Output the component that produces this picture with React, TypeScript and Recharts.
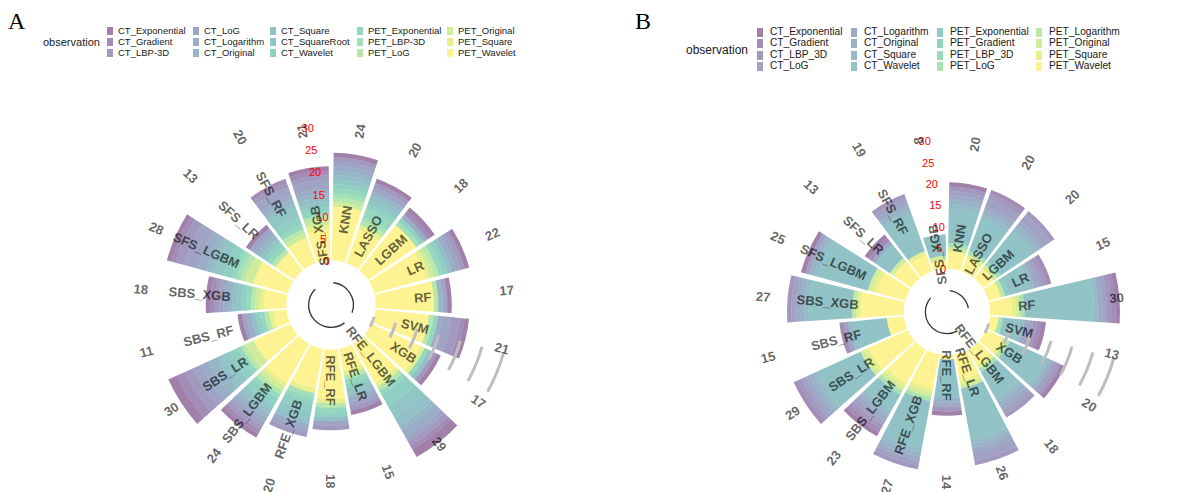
import React from "react";
import { RadialBarChart, RadialBar, PolarAngleAxis, PolarRadiusAxis } from "recharts";

const FONT = '"Liberation Sans", Arial, sans-serif';

const models = [
  "KNN", "LASSO", "LGBM", "LR", "RF", "SVM", "XGB",
  "RFE_LGBM", "RFE_LR", "RFE_RF", "RFE_XGB",
  "SBS_LGBM", "SBS_LR", "SBS_RF", "SBS_XGB",
  "SFS_LGBM", "SFS_LR", "SFS_RF", "SFS_XGB",
];

// ---- panel A ----
const obsA = [
  "CT_Exponential", "CT_Gradient", "CT_LBP-3D", "CT_LoG", "CT_Logarithm", "CT_Original",
  "CT_Square", "CT_SquareRoot", "CT_Wavelet", "PET_Exponential", "PET_LBP-3D", "PET_LoG",
  "PET_Original", "PET_Square", "PET_Wavelet",
];
const coloursA = [
  "#440154", "#481B6D", "#46337E", "#3F4889", "#365C8D", "#2E6E8E", "#277F8E", "#21908C",
  "#1FA187", "#2DB27D", "#4AC16D", "#71CF57", "#9FDA3A", "#CFE11C", "#FDE725",
];
// one row per model, columns in obsA order
const countsA = [
  [1, 0, 1, 1, 1, 1, 1, 1, 1, 1, 1, 1, 1, 0, 12], // KNN
  [1, 0, 1, 1, 0, 1, 1, 1, 1, 2, 1, 1, 0, 1, 8], // LASSO
  [1, 1, 0, 0, 1, 0, 0, 0, 1, 0, 1, 0, 0, 0, 13], // LGBM
  [1, 0, 1, 1, 1, 0, 1, 0, 1, 1, 0, 1, 1, 1, 12], // LR
  [1, 0, 0, 1, 0, 1, 0, 0, 0, 0, 0, 1, 0, 0, 13], // RF
  [1, 1, 2, 2, 1, 0, 0, 0, 0, 1, 0, 1, 0, 0, 12], // SVM
  [1, 0, 1, 0, 0, 0, 1, 0, 0, 1, 0, 0, 0, 1, 12], // XGB
  [2, 1, 1, 1, 2, 1, 2, 3, 3, 1, 0, 1, 0, 1, 10], // RFE_LGBM
  [1, 0, 1, 1, 1, 0, 1, 1, 1, 1, 0, 1, 0, 1, 5], // RFE_LR
  [0, 0, 1, 1, 0, 0, 1, 0, 1, 1, 0, 1, 0, 1, 11], // RFE_RF
  [0, 0, 1, 1, 1, 0, 1, 2, 2, 1, 1, 0, 0, 1, 9], // RFE_XGB
  [1, 1, 1, 1, 1, 1, 1, 1, 2, 1, 0, 1, 1, 1, 10], // SBS_LGBM
  [2, 2, 2, 2, 2, 2, 1, 2, 2, 1, 0, 1, 2, 0, 9], // SBS_LR
  [1, 0, 0, 1, 1, 0, 1, 0, 1, 1, 0, 1, 0, 1, 3], // SBS_RF
  [1, 1, 1, 1, 1, 1, 1, 1, 1, 1, 0, 1, 1, 1, 5], // SBS_XGB
  [1, 1, 2, 3, 2, 1, 1, 2, 2, 1, 1, 1, 2, 0, 8], // SFS_LGBM
  [1, 0, 0, 1, 1, 1, 0, 1, 1, 1, 0, 1, 0, 0, 5], // SFS_LR
  [0, 1, 1, 2, 1, 1, 1, 2, 2, 1, 0, 1, 1, 0, 6], // SFS_RF
  [1, 1, 1, 2, 1, 1, 1, 1, 1, 1, 0, 1, 1, 1, 7], // SFS_XGB
];

// ---- panel B ----
const obsB = [
  "CT_Exponential", "CT_Gradient", "CT_LBP_3D", "CT_LoG", "CT_Logarithm", "CT_Original",
  "CT_Square", "CT_Wavelet", "PET_Exponential", "PET_Gradient", "PET_LBP_3D", "PET_LoG",
  "PET_Logarithm", "PET_Original", "PET_Square", "PET_Wavelet",
];
const coloursB = [
  "#440154", "#481A6C", "#472F7D", "#414487", "#39568C", "#31688E", "#2A788E", "#23888E",
  "#1F988B", "#22A884", "#35B779", "#54C568", "#7AD151", "#A5DB36", "#D2E21B", "#FDE725",
];
const countsB = [
  [1, 0, 1, 1, 1, 1, 1, 8, 0, 0, 0, 1, 0, 1, 0, 4], // KNN
  [0, 1, 1, 2, 1, 1, 1, 8, 0, 0, 0, 1, 0, 0, 1, 3], // LASSO
  [0, 0, 1, 2, 1, 1, 1, 9, 0, 0, 1, 0, 0, 1, 0, 3], // LGBM
  [0, 1, 1, 1, 1, 0, 1, 5, 1, 0, 0, 0, 1, 0, 0, 3], // LR
  [1, 1, 1, 1, 1, 0, 1, 16, 0, 0, 0, 1, 0, 1, 1, 5], // RF
  [1, 1, 1, 1, 1, 0, 1, 4, 0, 0, 0, 1, 0, 0, 0, 2], // SVM
  [1, 0, 1, 1, 0, 1, 1, 9, 0, 0, 0, 0, 1, 0, 1, 4], // XGB
  [0, 0, 1, 1, 1, 1, 1, 7, 0, 0, 0, 1, 0, 0, 1, 4], // RFE_LGBM
  [0, 0, 1, 2, 1, 1, 1, 12, 0, 0, 0, 0, 0, 1, 1, 6], // RFE_LR
  [1, 0, 1, 0, 1, 1, 0, 9, 0, 0, 0, 0, 0, 0, 0, 1], // RFE_RF
  [0, 0, 1, 1, 1, 1, 1, 11, 0, 0, 0, 1, 0, 1, 1, 8], // RFE_XGB
  [1, 1, 1, 1, 1, 1, 1, 4, 0, 0, 0, 1, 0, 1, 1, 9], // SBS_LGBM
  [0, 1, 1, 1, 1, 1, 1, 11, 0, 0, 0, 0, 0, 1, 1, 10], // SBS_LR
  [0, 1, 0, 1, 0, 0, 1, 8, 0, 0, 0, 0, 0, 0, 0, 4], // SBS_RF
  [0, 0, 1, 1, 1, 1, 1, 10, 0, 0, 0, 0, 1, 0, 1, 10], // SBS_XGB
  [1, 0, 0, 1, 0, 1, 1, 12, 0, 0, 0, 0, 0, 1, 1, 7], // SFS_LGBM
  [1, 1, 0, 0, 1, 0, 0, 4, 0, 0, 0, 0, 0, 1, 0, 5], // SFS_LR
  [0, 0, 1, 1, 1, 1, 1, 9, 0, 0, 0, 0, 0, 0, 1, 4], // SFS_RF
  [0, 0, 0, 0, 0, 0, 0, 5, 0, 0, 0, 0, 0, 1, 0, 2], // SFS_XGB
];

const DMIN = -10;
const DMAX = 30;
const gridLevels = [0, 5, 10, 15, 20, 25, 30];
const SLOT = 360 / models.length;

// theta = degrees clockwise from 12 o'clock
function polar(cx: number, cy: number, r: number, theta: number) {
  const a = (theta * Math.PI) / 180;
  return { x: cx + r * Math.sin(a), y: cy - r * Math.cos(a) };
}

function arcPath(cx: number, cy: number, r: number, t1: number, t2: number) {
  const p1 = polar(cx, cy, r, t1);
  const p2 = polar(cx, cy, r, t2);
  const large = t2 - t1 > 180 ? 1 : 0;
  return `M${p1.x},${p1.y} A${r},${r} 0 ${large} 1 ${p2.x},${p2.y}`;
}

type PanelProps = {
  obs: string[];
  colours: string[];
  counts: number[][];
  left: number;
  cx: number;
  cy: number;
  outer: number;
  nameY: number;
  baseArcs: number[][];
};

function Panel({ obs, colours, counts, left, cx, cy, outer, nameY, baseArcs }: PanelProps) {
  const rows = models.map((m, i) => {
    const row: Record<string, string | number> = { name: m };
    obs.forEach((o, j) => {
      row[o] = counts[i][j];
    });
    return row;
  });
  const totals: Record<string, number> = {};
  models.forEach((m, i) => {
    totals[m] = counts[i].reduce((a, b) => a + b, 0);
  });
  const rOf = (v: number) => (outer * (v - DMIN)) / (DMAX - DMIN);

  const labelText = {
    fontFamily: FONT,
    fontSize: 13,
    fontWeight: 700,
    fill: "#000",
    fillOpacity: 0.62,
  };

  const renderAngleTick = (props: any) => {
    const { payload } = props;
    // tick sits on the band edge; move to the band centre
    const theta = ((((90 - payload.coordinate) % 360) + 360) % 360) - SLOT / 2;
    const flip = theta > 180.5;
    const rot = flip ? theta - 270 : theta - 90;
    const pn = polar(cx, cy, rOf(nameY), theta);
    const pt = polar(cx, cy, rOf(31), theta);
    const first = payload.value === models[0];
    return (
      <g>
        {first && (
          <g>
            {gridLevels.map((v) => (
              <path key={v} d={arcPath(cx, cy, rOf(v), 105.5, 119)} fill="none" stroke="#BEBEBE" strokeWidth={3} />
            ))}
            {baseArcs.map((a, k) => (
              <path key={k} d={arcPath(cx, cy, rOf(-5), a[0], a[1])} fill="none" stroke="#000" strokeOpacity={0.8} strokeWidth={1.3} />
            ))}
          </g>
        )}
        <text x={pn.x} y={pn.y} dy="0.35em" textAnchor="end" transform={`rotate(${rot} ${pn.x} ${pn.y})`} {...labelText}>
          {payload.value}
        </text>
        <text x={pt.x} y={pt.y} dy="0.35em" textAnchor="end" transform={`rotate(${rot} ${pt.x} ${pt.y})`} {...labelText}>
          {totals[payload.value]}
        </text>
      </g>
    );
  };

  const renderRadiusTick = (props: any) => {
    const { x, y, payload } = props;
    if (payload.value < 0) return <g />;
    return (
      <text x={x} y={y} dy="0.35em" textAnchor="start" fill="#FF0000" fontSize={11} fontFamily={FONT}>
        {payload.value}
      </text>
    );
  };

  const stackOrder = obs.map((o, j) => ({ o, c: colours[j] })).reverse();
  const start = 90 - SLOT;

  return (
    <div style={{ position: "absolute", left, top: 0 }}>
      <RadialBarChart
        width={598}
        height={492}
        data={rows}
        cx={cx}
        cy={cy}
        innerRadius={0}
        outerRadius={outer}
        startAngle={start}
        endAngle={start - 360}
        layout="centric"
        barCategoryGap="5%"
        style={{ overflow: "visible" }}
      >
        {stackOrder.map(({ o, c }) => (
          <RadialBar
            key={o}
            dataKey={o}
            stackId="obs"
            fill={c}
            fillOpacity={0.5}
            stroke="none"
            isAnimationActive={false}
          />
        ))}
        <PolarRadiusAxis
          type="number"
          domain={[DMIN, DMAX]}
          tickCount={9}
          angle={90 - (models.length - 0.5) * SLOT}
          axisLine={false}
          tickLine={false}
          tick={renderRadiusTick}
        />
        <PolarAngleAxis dataKey="name" type="category" axisLine={false} tickLine={false} tick={renderAngleTick} />
      </RadialBarChart>
    </div>
  );
}

type LegendProps = {
  items: string[];
  colours: string[];
  colX: number[];
  rowY: number[];
  fontSize: number;
  titleX: number;
  titleY: number;
  titleSize: number;
  keyW: number;
  keyH: number;
  textGap: number;
};

function ObsLegend({ items, colours, colX, rowY, fontSize, titleX, titleY, titleSize, keyW, keyH, textGap }: LegendProps) {
  const nRows = rowY.length;
  return (
    <>
      <div
        style={{
          position: "absolute",
          left: titleX,
          top: titleY - titleSize * 0.6,
          fontSize: titleSize,
          lineHeight: `${titleSize * 1.2}px`,
          color: "#1a1a1a",
          whiteSpace: "nowrap",
        }}
      >
        observation
      </div>
      {items.map((it, i) => {
        const col = Math.floor(i / nRows);
        const row = i % nRows;
        const x = colX[col];
        const y = rowY[row];
        return (
          <React.Fragment key={it}>
            <div
              style={{
                position: "absolute",
                left: x,
                top: y - keyH / 2,
                width: keyW,
                height: keyH,
                background: colours[i],
                opacity: 0.5,
              }}
            />
            <div
              style={{
                position: "absolute",
                left: x + textGap,
                top: y - fontSize * 0.6,
                fontSize,
                lineHeight: `${fontSize * 1.2}px`,
                color: "#1a1a1a",
                whiteSpace: "nowrap",
              }}
            >
              {it}
            </div>
          </React.Fragment>
        );
      })}
    </>
  );
}

export default function App() {
  const titleStyle = {
    position: "absolute" as const,
    fontFamily: '"Liberation Serif", "Times New Roman", serif',
    fontSize: 24,
    lineHeight: "24px",
    color: "#000",
  };
  return (
    <div
      style={{
        position: "absolute",
        left: 0,
        top: 0,
        width: 1196,
        height: 492,
        background: "#fff",
        fontFamily: FONT,
        overflow: "hidden",
      }}
    >
      <Panel
        obs={obsA}
        colours={coloursA}
        counts={countsA}
        left={0}
        cx={331}
        cy={305}
        outer={179}
        nameY={12.5}
        baseArcs={[[6, 110], [143, 315]]}
      />
      <Panel
        obs={obsB}
        colours={coloursB}
        counts={countsB}
        left={598}
        cx={349}
        cy={312}
        outer={173}
        nameY={10.5}
        baseArcs={[[7, 80], [151, 311]]}
      />
      <div style={{ ...titleStyle, left: 8, top: 9 }}>A</div>
      <div style={{ ...titleStyle, left: 635, top: 9 }}>B</div>
      <ObsLegend
        items={obsA}
        colours={coloursA}
        colX={[107, 193, 270, 357, 447]}
        rowY={[31, 42, 53]}
        fontSize={9.5}
        titleX={43}
        titleY={43}
        titleSize={11}
        keyW={6}
        keyH={8}
        textGap={11}
      />
      <ObsLegend
        items={obsB}
        colours={coloursB}
        colX={[757, 851, 937, 1036]}
        rowY={[32, 43, 55, 66]}
        fontSize={10.2}
        titleX={686}
        titleY={50}
        titleSize={12}
        keyW={6}
        keyH={9}
        textGap={13}
      />
    </div>
  );
}
